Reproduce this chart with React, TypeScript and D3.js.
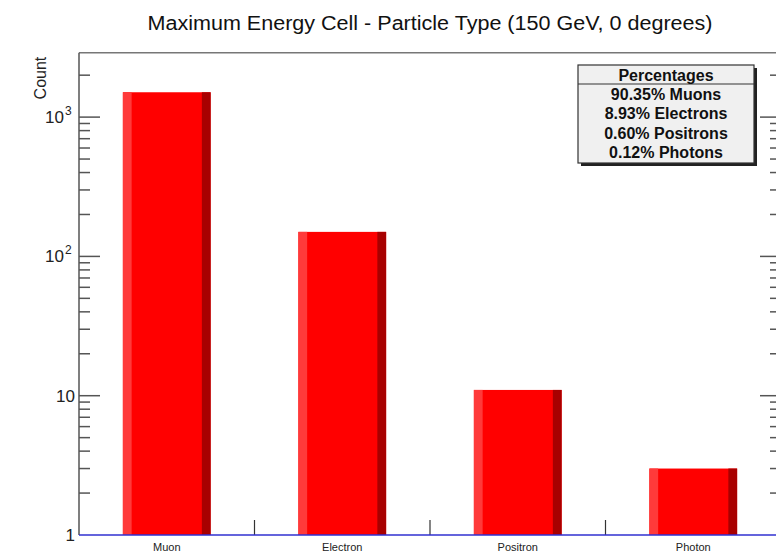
import * as d3 from "d3";
import { useEffect, useRef } from "react";

// bin labels and bar heights
const categories = ["Muon", "Electron", "Positron", "Photon"];
const counts = [1508, 150, 11, 3];

const legendTitle = "Percentages";
const legendLines = ["90.35% Muons", "8.93% Electrons", "0.60% Positrons", "0.12% Photons"];

const decades = [1, 10, 100, 1000];
const decadeLabels = [["1", ""], ["10", ""], ["10", "2"], ["10", "3"]];

const title = "Maximum Energy Cell - Particle Type (150 GeV, 0 degrees)";
const yTitle = "Count";

const App = () => {
  const ref = useRef<SVGSVGElement>(null);

  useEffect(() => {
    const svg = d3.select(ref.current);
    svg.selectAll("*").remove();

    const W = 776, H = 555;
    const left = 79, right = 781, top = 52.7, bottom = 535;
    const font = "'Liberation Sans', Arial, Helvetica, sans-serif";

    svg.append("rect").attr("width", W).attr("height", H).attr("fill", "#fff");

    const x = d3.scaleLinear().domain([0, categories.length]).range([left, right]);
    const y = d3.scaleLog().domain([1, 2900]).range([bottom, top]);

    // bars (ROOT style: light left strip, dark right strip)
    const g = svg.append("g");
    categories.forEach((c, i) => {
      const x0 = x(i + 0.25), x1 = x(i + 0.75);
      const w = x1 - x0;
      const yt = y(counts[i]);
      g.append("rect").attr("x", x0).attr("y", yt).attr("width", w).attr("height", bottom - yt).attr("fill", "#ff0000");
      g.append("rect").attr("x", x0).attr("y", yt).attr("width", w * 0.1).attr("height", bottom - yt).attr("fill", "#ff3a3a");
      g.append("rect").attr("x", x1 - w * 0.1).attr("y", yt).attr("width", w * 0.1).attr("height", bottom - yt).attr("fill", "#a80000");
    });

    // frame
    svg.append("line").attr("x1", left).attr("x2", right).attr("y1", top).attr("y2", top)
      .attr("stroke", "#777").attr("stroke-width", 1.5);
    svg.append("line").attr("x1", right).attr("x2", right).attr("y1", top).attr("y2", bottom)
      .attr("stroke", "#777").attr("stroke-width", 1.5);
    svg.append("line").attr("x1", left).attr("x2", left).attr("y1", top).attr("y2", bottom)
      .attr("stroke", "#555").attr("stroke-width", 1.5);

    // y ticks, both sides
    const minor: number[] = [];
    decades.forEach((d) => {
      for (let k = 2; k <= 9; k++) if (d * k < 2900) minor.push(d * k);
    });
    const ticks = svg.append("g").attr("stroke", "#555").attr("stroke-width", 1.5);
    decades.forEach((d) => {
      if (d === 1) return;
      ticks.append("line").attr("x1", left).attr("x2", left + 21).attr("y1", y(d)).attr("y2", y(d));
      ticks.append("line").attr("x1", right).attr("x2", right - 21).attr("y1", y(d)).attr("y2", y(d));
    });
    minor.forEach((m) => {
      ticks.append("line").attr("x1", left).attr("x2", left + 11).attr("y1", y(m)).attr("y2", y(m));
      ticks.append("line").attr("x1", right).attr("x2", right - 11).attr("y1", y(m)).attr("y2", y(m));
    });

    // y labels
    decades.forEach((d, i) => {
      const [base, sup] = decadeLabels[i];
      svg.append("text").attr("x", sup ? 64 : 75).attr("y", y(d) + 6)
        .attr("text-anchor", "end").attr("font-family", font).attr("font-size", 17).attr("fill", "#222")
        .text(base);
      if (sup) {
        svg.append("text").attr("x", 65).attr("y", y(d) - 2).attr("font-family", font)
          .attr("font-size", 12).attr("fill", "#222").text(sup);
      }
    });

    // x axis: blue baseline, ticks at bin edges
    for (let i = 1; i < categories.length; i++) {
      svg.append("line").attr("x1", x(i)).attr("x2", x(i)).attr("y1", bottom).attr("y2", bottom - 15)
        .attr("stroke", "#333").attr("stroke-width", 1.2);
    }
    svg.append("line").attr("x1", left).attr("x2", right).attr("y1", bottom).attr("y2", bottom)
      .attr("stroke", "#3030d0").attr("stroke-width", 1.5);

    categories.forEach((c, i) => {
      svg.append("text").attr("x", x(i + 0.5)).attr("y", 551).attr("text-anchor", "middle")
        .attr("font-family", font).attr("font-size", 11).attr("fill", "#222").text(c);
    });

    // titles
    svg.append("text").attr("x", x(2)).attr("y", 30).attr("text-anchor", "middle")
      .attr("font-family", font).attr("font-size", 20).attr("fill", "#111")
      .attr("textLength", 565).attr("lengthAdjust", "spacingAndGlyphs").text(title);
    svg.append("text").attr("transform", `translate(46, ${top + 4}) rotate(-90)`)
      .attr("text-anchor", "end").attr("font-family", font).attr("font-size", 16).attr("fill", "#222")
      .text(yTitle);

    // legend box
    const lx = 578, ly = 65, lw = 176, lh = 98;
    svg.append("rect").attr("x", lx + 3).attr("y", ly + 3).attr("width", lw).attr("height", lh).attr("fill", "#222");
    svg.append("rect").attr("x", lx).attr("y", ly).attr("width", lw).attr("height", lh)
      .attr("fill", "#f0f0f0").attr("stroke", "#333").attr("stroke-width", 1.2);
    svg.append("line").attr("x1", lx).attr("x2", lx + lw).attr("y1", ly + 19).attr("y2", ly + 19)
      .attr("stroke", "#333").attr("stroke-width", 1.2);
    svg.append("text").attr("x", lx + lw / 2).attr("y", ly + 15.5).attr("text-anchor", "middle")
      .attr("font-family", font).attr("font-size", 16).attr("font-weight", "bold").attr("fill", "#111")
      .text(legendTitle);
    legendLines.forEach((l, i) => {
      svg.append("text").attr("x", lx + lw / 2).attr("y", ly + 34.5 + i * 19.5).attr("text-anchor", "middle")
        .attr("font-family", font).attr("font-size", 16).attr("font-weight", "bold").attr("fill", "#111")
        .text(l);
    });
  }, []);

  return (
    <div style={{ position: "absolute", left: 0, top: 0 }}>
      <svg ref={ref} width={776} height={555} style={{ display: "block" }} />
    </div>
  );
};

export default App;
